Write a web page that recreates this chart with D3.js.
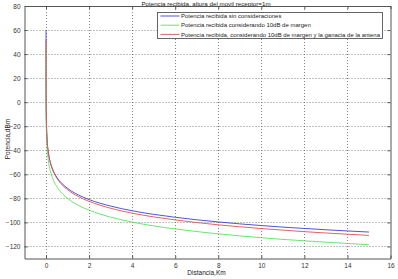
<!DOCTYPE html>
<html>
<head>
<meta charset="utf-8">
<script src="https://cdn.jsdelivr.net/npm/d3@7"></script>
<style>
  body { margin: 0; background: #fff; }
  svg { display: block; font-family: "Liberation Sans", Arial, sans-serif; }
  .tick text { fill: #333; font-size: 6.5px; }
</style>
</head>
<body>
<script>
'use strict';

// distances (Km) and received power (dBm)
var distancia = [0.0001, 0.001, 0.01, 0.05, 0.1, 0.2, 0.3, 0.5, 0.75, 1, 1.5, 2, 3, 4, 5, 6, 7, 8, 9, 10, 11, 12, 13, 14, 15];
var sinConsideraciones = [60, 21, -9.9, -31.5, -40.8, -50.1, -55.5, -62.4, -67.8, -71.7, -77.1, -81.0, -86.4, -90.3, -93.3, -95.7, -97.8, -99.6, -101.2, -102.6, -103.9, -105.0, -106.1, -107.1, -108.0];
var conMargen = [48, 18.1, -14.6, -37.5, -47.3, -57.1, -62.9, -70.2, -75.9, -80.0, -85.8, -89.8, -95.6, -99.7, -102.9, -105.4, -107.6, -109.5, -111.2, -112.7, -114.1, -115.3, -116.4, -117.5, -118.5];
var conMargenYGanancia = [52, 24.1, -8.2, -30.8, -40.5, -50.2, -55.9, -63.1, -68.8, -72.8, -78.5, -82.5, -88.2, -92.3, -95.4, -97.9, -100.1, -102.0, -103.6, -105.1, -106.4, -107.7, -108.8, -109.8, -110.8];

var xTicks = [0, 2, 4, 6, 8, 10, 12, 14, 16];
var yTicks = [-120, -100, -80, -60, -40, -20, 0, 20, 40, 60, 80];

var leyenda = [
  'Potencia recibida sin consideraciones',
  'Potencia recibida considerando 10dB de margen',
  'Potencia recibida, considerando 10dB de margen y la ganacia de la antena'
];
var colores = ['#4040d0', '#5fe05f', '#e05050'];

var width = 398, height = 279;
var plotLeft = 24.5, plotRight = 390.5, plotTop = 6, plotBottom = 258.5;

var svg = d3.select('body').append('svg')
  .attr('width', width)
  .attr('height', height);

var x = d3.scaleLinear().domain([-1, 16]).range([plotLeft, plotRight]);
var y = d3.scaleLinear().domain([-130, 80]).range([plotBottom, plotTop]);

// grid
var grid = svg.append('g').attr('stroke', '#666').attr('stroke-width', 0.8).attr('stroke-dasharray', '1,2');
grid.selectAll('.gx').data(xTicks.filter(function (d) { return d < 16; })).enter().append('line')
  .attr('x1', function (d) { return Math.round(x(d)) + 0.5; })
  .attr('x2', function (d) { return Math.round(x(d)) + 0.5; })
  .attr('y1', plotTop).attr('y2', plotBottom);
grid.selectAll('.gy').data(yTicks.filter(function (d) { return d < 80; })).enter().append('line')
  .attr('y1', function (d) { return Math.round(y(d)) + 0.5; })
  .attr('y2', function (d) { return Math.round(y(d)) + 0.5; })
  .attr('x1', plotLeft).attr('x2', plotRight);

// curves
var series = [sinConsideraciones, conMargen, conMargenYGanancia];
var line = d3.line()
  .x(function (d, i) { return x(distancia[i]); })
  .y(function (d) { return y(d); })
  .curve(d3.curveMonotoneX);

svg.append('g').selectAll('path').data(series).enter().append('path')
  .attr('d', line)
  .attr('fill', 'none')
  .attr('stroke', function (d, i) { return colores[i]; })
  .attr('stroke-width', 0.9);

// axes (ticks inside, box on)
var axisColor = '#555';
function styleAxis(g) {
  g.selectAll('path, line').attr('stroke', axisColor);
}
svg.append('g').attr('transform', 'translate(0,' + plotBottom + ')')
  .call(d3.axisBottom(x).tickValues(xTicks).tickSizeInner(-3).tickSizeOuter(0).tickPadding(5))
  .call(styleAxis);
svg.append('g').attr('transform', 'translate(0,' + plotTop + ')')
  .call(d3.axisTop(x).tickValues(xTicks).tickSizeInner(-3).tickSizeOuter(0).tickFormat(''))
  .call(styleAxis);
svg.append('g').attr('transform', 'translate(' + plotLeft + ',0)')
  .call(d3.axisLeft(y).tickValues(yTicks).tickSizeInner(-3).tickSizeOuter(0).tickPadding(4))
  .call(styleAxis);
svg.append('g').attr('transform', 'translate(' + plotRight + ',0)')
  .call(d3.axisRight(y).tickValues(yTicks).tickSizeInner(-3).tickSizeOuter(0).tickFormat(''))
  .call(styleAxis);

// labels
svg.append('text')
  .attr('x', 206).attr('y', 5.5)
  .attr('text-anchor', 'middle').attr('font-size', 6.2).attr('fill', '#222')
  .text('Potencia recibida, altura del movil receptor=1m');
svg.append('text')
  .attr('x', 206.5).attr('y', 274.5)
  .attr('text-anchor', 'middle').attr('font-size', 6.5).attr('fill', '#222')
  .text('Distancia,Km');
svg.append('text')
  .attr('transform', 'translate(10,139) rotate(-90)')
  .attr('text-anchor', 'middle').attr('font-size', 6.5).attr('fill', '#222')
  .text('Potencia,dBm');

// legend
var lg = svg.append('g').attr('transform', 'translate(157.5,12.5)');
lg.append('rect').attr('width', 225).attr('height', 26)
  .attr('fill', '#fff').attr('stroke', axisColor).attr('stroke-width', 0.9);
var item = lg.selectAll('.item').data(leyenda).enter().append('g')
  .attr('transform', function (d, i) { return 'translate(0,' + (3.5 + i * 9.2) + ')'; });
item.append('line').attr('x1', 3).attr('x2', 22).attr('y1', 0).attr('y2', 0)
  .attr('stroke', function (d, i) { return colores[i]; }).attr('stroke-width', 0.9);
item.append('text').attr('x', 23.5).attr('y', 2.2)
  .attr('font-size', 6).attr('fill', '#222')
  .text(function (d) { return d; })
  .each(function () {
    // keep the longest entry inside the box
    if (this.getComputedTextLength() > 199) {
      d3.select(this).attr('textLength', 199).attr('lengthAdjust', 'spacingAndGlyphs');
    }
  });
</script>
</body>
</html>
